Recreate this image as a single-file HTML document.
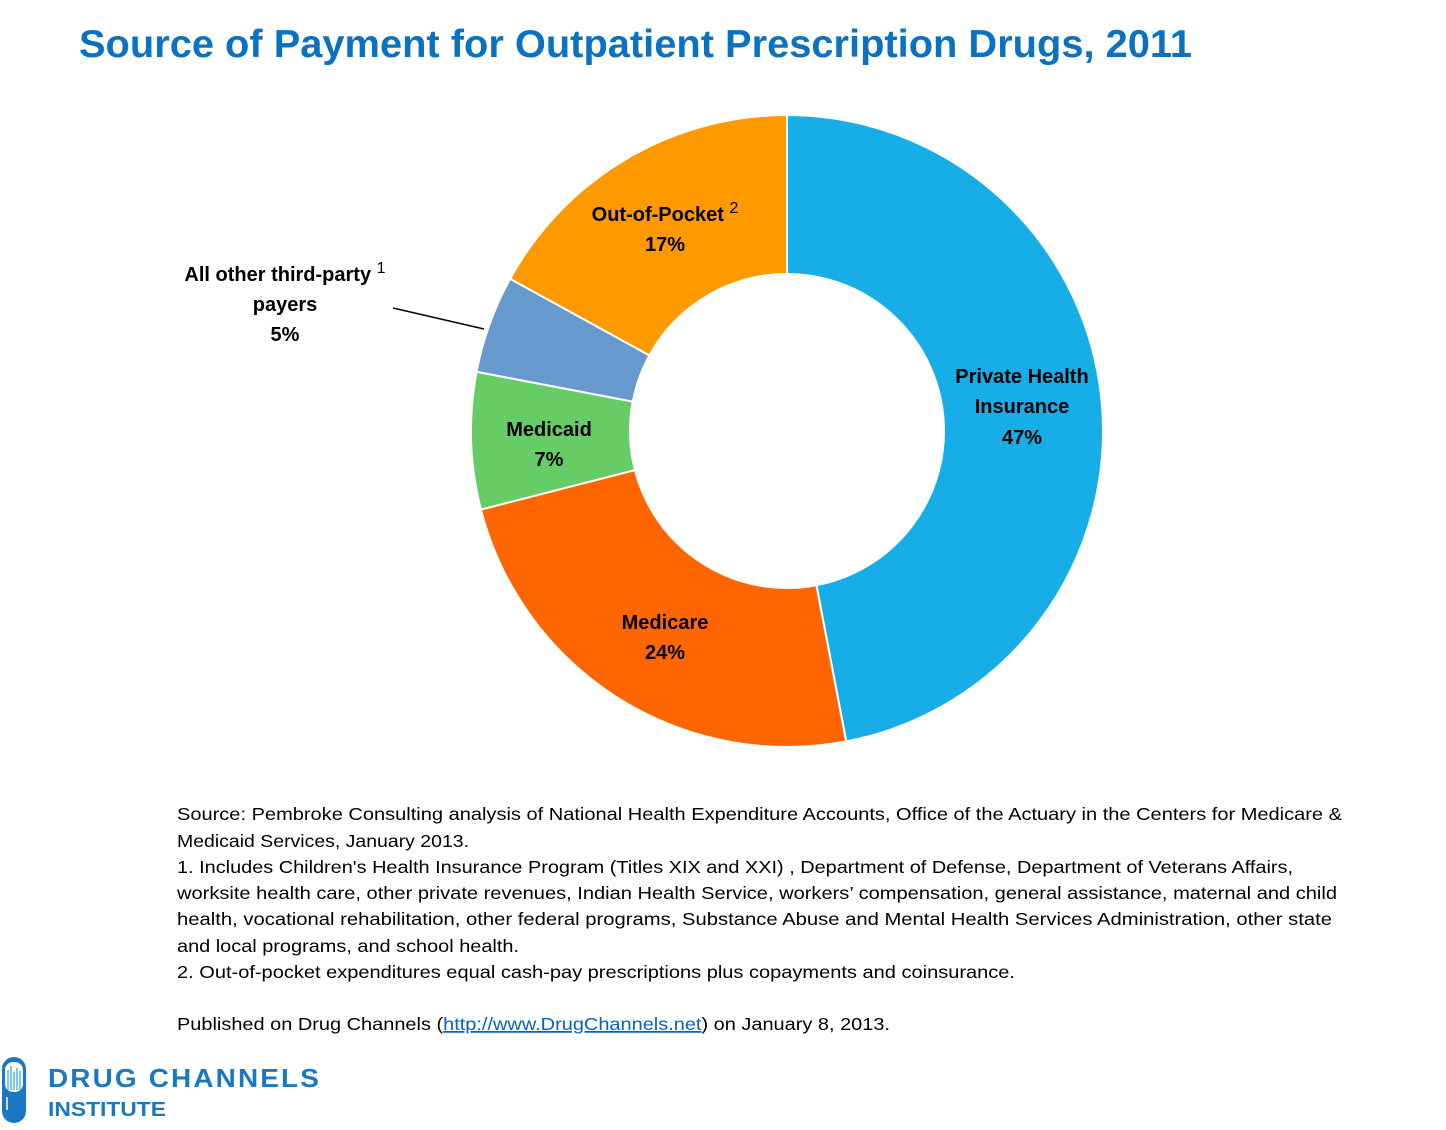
<!DOCTYPE html>
<html><head><meta charset="utf-8"><style>
body{margin:0;background:#fff;width:1446px;height:1125px;overflow:hidden;font-family:"Liberation Sans",sans-serif}
</style></head><body>
<svg id="chart" width="1446" height="1125" xmlns="http://www.w3.org/2000/svg" font-family="Liberation Sans, sans-serif">
<text x="79" y="57" font-size="39" font-weight="bold" fill="#0a72c0" textLength="1113" lengthAdjust="spacingAndGlyphs">Source of Payment for Outpatient Prescription Drugs, 2011</text>
<g id="slices"></g>
<g id="labels" font-size="20" font-weight="bold" fill="#000" text-anchor="middle">
<text x="665" y="221">Out-of-Pocket <tspan font-weight="normal" font-size="16" dy="-8">2</tspan></text>
<text x="665" y="251">17%</text>
<text x="285" y="281">All other third-party <tspan font-weight="normal" font-size="16" dy="-8">1</tspan></text>
<text x="285" y="311">payers</text>
<text x="285" y="341">5%</text>
<text x="549" y="436">Medicaid</text>
<text x="549" y="466">7%</text>
<text x="665" y="629">Medicare</text>
<text x="665" y="659">24%</text>
<text x="1022" y="383">Private Health</text>
<text x="1022" y="413">Insurance</text>
<text x="1022" y="444">47%</text>
</g>
<line x1="393" y1="308" x2="484" y2="329" stroke="#000" stroke-width="1.5"/>
<g font-size="17.5" fill="#000">
<text x="177" y="820" textLength="1165" lengthAdjust="spacingAndGlyphs">Source: Pembroke Consulting analysis of National Health Expenditure Accounts, Office of the Actuary in the Centers for Medicare &amp;</text>
<text x="177" y="847" textLength="292" lengthAdjust="spacingAndGlyphs">Medicaid Services, January 2013.</text>
<text x="177" y="873" textLength="1116" lengthAdjust="spacingAndGlyphs">1. Includes Children's Health Insurance Program (Titles XIX and XXI) , Department of Defense, Department of Veterans Affairs,</text>
<text x="177" y="899" textLength="1160" lengthAdjust="spacingAndGlyphs">worksite health care, other private revenues, Indian Health Service, workers’ compensation, general assistance, maternal and child</text>
<text x="177" y="925" textLength="1155" lengthAdjust="spacingAndGlyphs">health, vocational rehabilitation, other federal programs, Substance Abuse and Mental Health Services Administration, other state</text>
<text x="177" y="952" textLength="342" lengthAdjust="spacingAndGlyphs">and local programs, and school health.</text>
<text x="177" y="978" textLength="838" lengthAdjust="spacingAndGlyphs">2. Out-of-pocket expenditures equal cash-pay prescriptions plus copayments and coinsurance.</text>
<text x="177" y="1030" textLength="713" lengthAdjust="spacingAndGlyphs">Published on Drug Channels (<tspan fill="#0563c1" text-decoration="underline">http://www.DrugChannels.net</tspan>) on January 8, 2013.</text>
</g>
<g>
<rect x="2" y="1057" width="24" height="66" rx="12" fill="#1a78c2"/>
<rect x="5" y="1062" width="18" height="30" rx="8" fill="#fff"/>
<g stroke="#4fb5e8" stroke-width="1.5"><line x1="8" y1="1070" x2="8" y2="1090"/><line x1="11" y1="1066" x2="11" y2="1090"/><line x1="14" y1="1072" x2="14" y2="1090"/><line x1="17" y1="1068" x2="17" y2="1090"/><line x1="20" y1="1071" x2="20" y2="1090"/></g>
<line x1="7" y1="1097" x2="7" y2="1110" stroke="#fff" stroke-width="1.5"/>
<text x="48" y="1087" font-size="26" font-weight="bold" fill="#1a78c2" letter-spacing="2" textLength="273" lengthAdjust="spacingAndGlyphs">DRUG CHANNELS</text>
<text x="48" y="1116" font-size="20" font-weight="bold" fill="#1a78c2" textLength="118" lengthAdjust="spacingAndGlyphs">INSTITUTE</text>
</g>
</svg>
<script>
const categories=["Private Health Insurance","Medicare","Medicaid","All other third-party payers","Out-of-Pocket"];
const values=[47,24,7,5,17];
const colors=["#17ade6","#ff6600","#66cc66","#6699cc","#ff9900"];
const cx=787,cy=431,R=316,r=157;
const total=values.reduce((a,b)=>a+b,0);
function pt(rad,a){return [cx+rad*Math.sin(a),cy-rad*Math.cos(a)];}
const g=document.getElementById('slices');
let acc=0;
values.forEach((v,i)=>{
 const a0=acc/total*2*Math.PI;acc+=v;const a1=acc/total*2*Math.PI;
 const large=(a1-a0)>Math.PI?1:0;
 const [x0,y0]=pt(R,a0),[x1,y1]=pt(R,a1),[x2,y2]=pt(r,a1),[x3,y3]=pt(r,a0);
 const p=document.createElementNS('http://www.w3.org/2000/svg','path');
 p.setAttribute('d',`M${x0},${y0}A${R},${R} 0 ${large} 1 ${x1},${y1}L${x2},${y2}A${r},${r} 0 ${large} 0 ${x3},${y3}Z`);
 p.setAttribute('fill',colors[i]);p.setAttribute('stroke','#fff');p.setAttribute('stroke-width','2');
 
 
 g.appendChild(p);
});
</script>
</body></html>
